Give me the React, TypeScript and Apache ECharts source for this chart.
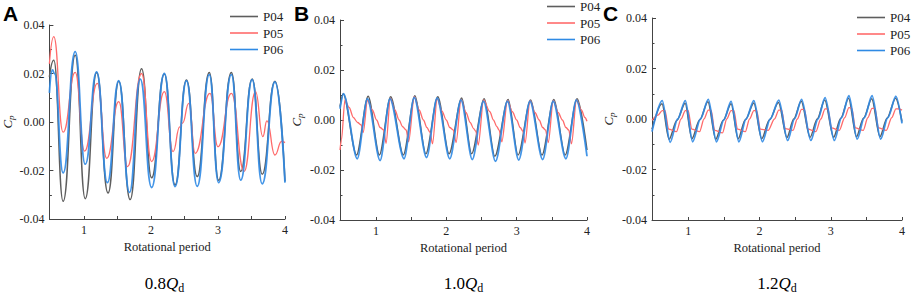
import React, { useEffect, useRef } from "react";
import * as echarts from "echarts";

// ---------- data (x = rotational period, y = Cp) ----------
const seriesNames = ["P04", "P05", "P06"];
const xTickValues = [1, 1.5, 2, 2.5, 3, 3.5, 4];
const xLabelValues = [1, 2, 3, 4];
const captions = ["0.8", "1.0", "1.2"];
const panelLetters = ["A", "B", "C"];

const aP04: number[][] = [
  [0.485, 0.0186], [0.55, 0.0255], [0.69, -0.0327], [0.87, 0.0275], [1.02, -0.0316],
  [1.19, 0.0204], [1.36, -0.0293], [1.52, 0.0168], [1.69, -0.032], [1.86, 0.022],
  [2.01, -0.023], [2.2, 0.0198], [2.36, -0.026], [2.53, 0.0173], [2.69, -0.0225],
  [2.87, 0.0204], [3.01, -0.024], [3.2, 0.0204], [3.34, -0.0204], [3.51, 0.0177],
  [3.66, -0.0215], [3.85, 0.0168], [4.0, -0.0245],
];
const aP05: number[][] = [
  [0.485, 0.024], [0.55, 0.0352], [0.69, -0.0042], [0.87, 0.0205], [1.01, -0.012],
  [1.2, 0.0159], [1.34, -0.015], [1.52, 0.0084], [1.65, -0.0184], [1.86, 0.02],
  [2.01, -0.0163], [2.2, 0.0125], [2.33, -0.0122], [2.43, -0.002], [2.47, -0.0005],
  [2.565, 0.0077], [2.66, -0.0129], [2.88, 0.0118], [3.0, -0.0102], [3.2, 0.0118],
  [3.39, -0.0204], [3.56, 0.0125], [3.67, -0.006], [3.73, 0.0005], [3.85, -0.0136],
  [3.95, -0.008], [4.0, -0.0085],
];
const aP06: number[][] = [
  [0.485, 0.012], [0.53, 0.0215], [0.56, 0.02], [0.69, -0.021], [0.87, 0.029],
  [1.02, -0.0174], [1.19, 0.0207], [1.35, -0.025], [1.52, 0.017], [1.68, -0.029],
  [1.84, 0.0177], [2.01, -0.027], [2.2, 0.02], [2.36, -0.0266], [2.53, 0.017],
  [2.69, -0.0265], [2.87, 0.0195], [3.01, -0.025], [3.2, 0.0195], [3.34, -0.024],
  [3.51, 0.0175], [3.66, -0.0255], [3.85, 0.0165], [4.0, -0.025],
];

const bP04: number[][] = [
  [0.49, 0.0053], [0.535, 0.0105], [0.725, -0.014], [0.89, 0.0095], [1.05, -0.014],
  [1.21, 0.0093], [1.39, -0.014], [1.555, 0.0097], [1.71, -0.0135], [1.88, 0.0093],
  [2.04, -0.0135], [2.22, 0.0088], [2.36, -0.0135], [2.54, 0.0085], [2.69, -0.0145],
  [2.88, 0.0082], [3.02, -0.014], [3.2, 0.008], [3.36, -0.014], [3.53, 0.0082],
  [3.69, -0.014], [3.86, 0.0085], [4.0, -0.012],
];
const bP05: number[][] = [
  [0.49, -0.012], [0.51, -0.008], [0.56, 0.008], [0.62, 0.005], [0.68, 0.001],
  [0.74, -0.001], [0.79, -0.002], [0.82, -0.005], [0.88, 0.0078],
  [0.95, 0.004], [1.01, 0.0], [1.06, -0.003], [1.11, -0.004], [1.145, -0.0093], [1.205, 0.0087],
  [1.27, 0.004], [1.33, 0.0], [1.38, -0.0027], [1.43, -0.004], [1.465, -0.0087], [1.545, 0.0093],
  [1.615, 0.004], [1.675, 0.0], [1.725, -0.003], [1.77, -0.005], [1.805, -0.0095], [1.87, 0.0085],
  [1.94, 0.0035], [2.0, 0.0], [2.05, -0.003], [2.1, -0.004], [2.14, -0.009], [2.21, 0.0082],
  [2.28, 0.003], [2.34, -0.001], [2.39, -0.0035], [2.42, -0.0045], [2.455, -0.01], [2.53, 0.008],
  [2.62, 0.0033], [2.67, 0.0], [2.72, -0.0027], [2.75, -0.004], [2.79, -0.0087], [2.87, 0.0078],
  [2.94, 0.0033], [3.0, 0.0], [3.05, -0.003], [3.09, -0.0045], [3.12, -0.0092], [3.19, 0.0078],
  [3.26, 0.003], [3.32, 0.0], [3.37, -0.003], [3.41, -0.004], [3.45, -0.009], [3.52, 0.0078],
  [3.59, 0.003], [3.65, 0.0], [3.7, -0.003], [3.74, -0.004], [3.78, -0.0095], [3.85, 0.008],
  [3.92, 0.004], [3.97, 0.001], [4.0, -0.0005],
];
const bP06: number[][] = [
  [0.49, 0.0045], [0.54, 0.0105], [0.735, -0.0155], [0.88, 0.0085], [1.06, -0.0162],
  [1.2, 0.0085], [1.4, -0.0155], [1.545, 0.009], [1.72, -0.015], [1.87, 0.0088],
  [2.05, -0.0155], [2.21, 0.008], [2.37, -0.0158], [2.53, 0.0075], [2.7, -0.0165],
  [2.87, 0.0075], [3.03, -0.016], [3.19, 0.0075], [3.37, -0.0158], [3.52, 0.0075],
  [3.7, -0.0155], [3.85, 0.008], [4.0, -0.0145],
];

const cP04: number[][] = [
  [0.49, -0.004], [0.63, 0.006], [0.73, -0.008], [0.84, -0.0005], [0.955, 0.0062],
  [1.05, -0.0078], [1.16, -0.0003], [1.275, 0.0068], [1.385, -0.008], [1.49, -0.0005],
  [1.6, 0.006], [1.7, -0.0078], [1.8, -0.0003], [1.92, 0.0063], [2.03, -0.0078],
  [2.14, -0.0003], [2.265, 0.0065], [2.385, -0.0073], [2.48, 0.0], [2.585, 0.007],
  [2.71, -0.0072], [2.81, 0.0], [2.915, 0.0075], [3.04, -0.0072], [3.14, 0.0003],
  [3.25, 0.0082], [3.36, -0.007], [3.46, 0.0003], [3.575, 0.008], [3.69, -0.007],
  [3.79, 0.0003], [3.91, 0.0082], [4.0, -0.001],
];
const cP05: number[][] = [
  [0.49, -0.0005], [0.573, 0.0015], [0.633, 0.0033], [0.673, 0.0033], [0.723, -0.004], [0.833, -0.005],
  [0.898, 0.0], [0.958, 0.0033], [0.998, 0.0033], [1.048, -0.004], [1.158, -0.005],
  [1.22, 0.0], [1.28, 0.0035], [1.32, 0.0035], [1.37, -0.0045], [1.48, -0.0055],
  [1.54, 0.0], [1.6, 0.0033], [1.64, 0.0033], [1.69, -0.004], [1.8, -0.005],
  [1.86, 0.0], [1.92, 0.0033], [1.96, 0.0033], [2.01, -0.004], [2.12, -0.0045],
  [2.21, 0.0], [2.27, 0.0035], [2.31, 0.0035], [2.36, -0.0038], [2.47, -0.0045],
  [2.53, 0.0], [2.59, 0.0038], [2.63, 0.0038], [2.68, -0.004], [2.79, -0.005],
  [2.86, 0.0], [2.92, 0.004], [2.96, 0.004], [3.01, -0.0035], [3.12, -0.0045],
  [3.195, 0.0005], [3.255, 0.0045], [3.295, 0.0043], [3.345, -0.0035], [3.455, -0.0045],
  [3.52, 0.0005], [3.58, 0.0042], [3.62, 0.0042], [3.67, -0.0035], [3.78, -0.0045],
  [3.855, 0.0005], [3.915, 0.004], [3.955, 0.004], [4.0, 0.0035],
];
const cP06: number[][] = [
  [0.49, -0.005], [0.633, 0.0073], [0.745, -0.0092], [0.85, 0.0], [0.958, 0.0073],
  [1.06, -0.009], [1.17, 0.0], [1.28, 0.0078], [1.395, -0.009], [1.5, -0.0003],
  [1.6, 0.007], [1.71, -0.009], [1.81, 0.0], [1.92, 0.0073], [2.04, -0.009],
  [2.15, 0.0], [2.27, 0.0075], [2.395, -0.0085], [2.49, 0.0], [2.59, 0.0078],
  [2.72, -0.0085], [2.82, 0.0], [2.92, 0.0085], [3.05, -0.0085], [3.15, 0.0005],
  [3.255, 0.0092], [3.37, -0.008], [3.47, 0.0005], [3.58, 0.0092], [3.7, -0.008],
  [3.8, 0.0005], [3.915, 0.009], [4.0, -0.0017],
];

const panelData = [
  [aP04, aP05, aP06],
  [bP04, bP05, bP06],
  [cP04, cP05, cP06],
];

// ---------- styling / layout ----------
const SERIF = "Liberation Serif";
const SANS = "Liberation Sans";
const colors = ["#5e5e5e", "#ff6b6b", "#2f8ae4"];
const widths = [1.5, 1.3, 1.8];
const grids = [
  { left: 44, top: 25, width: 241, height: 194 },
  { left: 340, top: 20, width: 247, height: 200 },
  { left: 652, top: 18, width: 250, height: 202 },
];
const xMins = [0.485, 0.49, 0.49];
const yNameGap = [30, 36, 36];
const legendPos = [
  { left: 230, top: 10 },
  { left: 547, top: 0 },
  { left: 857, top: 11 },
];
const letterPos = [
  { x: 3, y: 3 },
  { x: 294, y: 3 },
  { x: 603, y: 3 },
];
const smoothing = [0.5, 0.3, 0.3];

const serifRich = {
  s: { fontFamily: SERIF, fontSize: 12, color: "#222" },
  t: { fontFamily: SERIF, fontSize: 12.5, color: "#222" },
};

export default function App() {
  const ref = useRef<HTMLDivElement>(null);

  useEffect(() => {
    if (!ref.current) return;
    const chart = echarts.init(ref.current, undefined, { renderer: "svg" });

    const xAxis = grids.map((_, i) => ({
      type: "value",
      gridIndex: i,
      min: xMins[i],
      max: 4,
      name: "{t|Rotational period}",
      nameLocation: "middle",
      nameGap: 21,
      nameTextStyle: { fontFamily: SERIF, fontSize: 12.5, color: "#222", rich: serifRich },
      axisLine: { show: true, onZero: false, lineStyle: { color: "#444", width: 1 } },
      axisTick: {
        show: true,
        inside: true,
        length: 3,
        customValues: xTickValues,
        lineStyle: { color: "#444" },
      },
      axisLabel: {
        customValues: xLabelValues,
        fontFamily: SERIF,
        fontSize: 12,
        color: "#222",
        margin: 5,
        formatter: (v: number) => `{s|${v}}`,
        rich: serifRich,
      },
      splitLine: { show: false },
    }));

    const yAxis = grids.map((_, i) => ({
      type: "value",
      gridIndex: i,
      min: -0.04,
      max: 0.04,
      interval: 0.02,
      name: "{c|C}{p|p}",
      nameLocation: "middle",
      nameRotate: 90,
      nameGap: yNameGap[i],
      nameTextStyle: {
        fontFamily: SERIF,
        rich: {
          c: { fontFamily: SERIF, fontStyle: "italic", fontSize: 13, lineHeight: 16, color: "#222" },
          p: {
            fontFamily: SERIF,
            fontStyle: "italic",
            fontSize: 9,
            lineHeight: 9,
            verticalAlign: "bottom",
            color: "#222",
          },
        },
      },
      axisLine: { show: true, onZero: false, lineStyle: { color: "#444", width: 1 } },
      axisTick: { show: true, inside: true, length: 4, lineStyle: { color: "#444" } },
      minorTick: { show: true, splitNumber: 2, length: 2.5, lineStyle: { color: "#444" } },
      axisLabel: {
        fontFamily: SERIF,
        fontSize: 12,
        color: "#222",
        margin: 5,
        formatter: (v: number) => `{s|${v.toFixed(2)}}`,
        rich: serifRich,
      },
      splitLine: { show: false },
      minorSplitLine: { show: false },
    }));

    const series: any[] = [];
    panelData.forEach((sets, p) => {
      sets.forEach((data, k) => {
        series.push({
          type: "line",
          name: seriesNames[k],
          xAxisIndex: p,
          yAxisIndex: p,
          data,
          symbol: "none",
          showSymbol: false,
          smooth: smoothing[p],
          smoothMonotone: "x",
          lineStyle: { color: colors[k], width: widths[k], opacity: k === 2 ? 0.9 : 1 },
          itemStyle: { color: colors[k] },
          z: 2 + k,
        });
      });
    });

    const legend = legendPos.map((pos) => ({
      data: seriesNames,
      orient: "vertical",
      left: pos.left,
      top: pos.top,
      padding: 0,
      icon: "rect",
      itemWidth: 28,
      itemHeight: 1.6,
      itemGap: 3.5,
      selectedMode: false,
      textStyle: { fontFamily: SERIF, fontSize: 13, lineHeight: 13, color: "#222" },
    }));

    const graphic: any[] = [];
    panelLetters.forEach((letter, i) => {
      graphic.push({
        type: "text",
        x: letterPos[i].x,
        y: letterPos[i].y,
        style: {
          text: letter,
          font: `bold 21px ${SANS}`,
          fill: "#000",
          align: "left",
          verticalAlign: "top",
        },
      });
    });
    captions.forEach((c, i) => {
      const g = grids[i];
      graphic.push({
        type: "text",
        x: g.left + g.width / 2,
        y: 283,
        style: {
          text: `{n|${c}}{q|Q}{d|d}`,
          align: "center",
          verticalAlign: "middle",
          rich: {
            n: { fontFamily: SERIF, fontSize: 17, lineHeight: 22, fill: "#000" },
            q: { fontFamily: SERIF, fontSize: 17, fontStyle: "italic", lineHeight: 22, fill: "#000" },
            d: { fontFamily: SERIF, fontSize: 12, lineHeight: 12, verticalAlign: "bottom", fill: "#000" },
          },
        },
      });
    });

    chart.setOption({
      animation: false,
      backgroundColor: "#ffffff",
      textStyle: { fontFamily: SERIF },
      grid: grids.map((g) => ({ ...g, containLabel: false })),
      xAxis,
      yAxis,
      legend,
      series,
      graphic,
    });

    return () => chart.dispose();
  }, []);

  return (
    <div
      ref={ref}
      style={{ position: "absolute", left: 0, top: 0, width: 913, height: 297, background: "#fff" }}
    />
  );
}
